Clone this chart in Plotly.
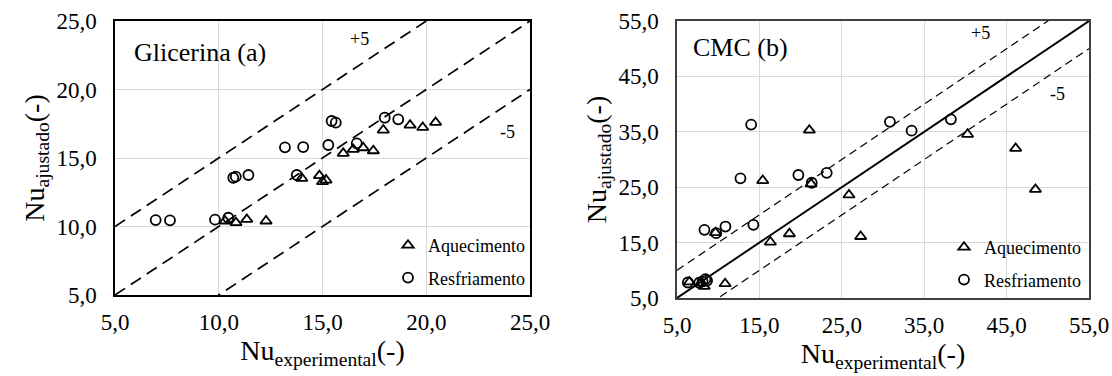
import plotly.graph_objects as go

# ---------------- data ----------------
gli_aq_x = [10.3, 10.83, 11.35, 12.28, 14.0, 14.85, 15.0, 15.17, 16.0, 16.48, 16.96, 17.45, 17.93, 19.22, 19.83, 20.45]
gli_aq_y = [10.4, 10.28, 10.52, 10.4, 13.52, 13.71, 13.27, 13.39, 15.34, 15.63, 15.75, 15.53, 17.04, 17.4, 17.23, 17.6]
gli_re_x = [6.96, 7.65, 9.82, 10.46, 10.7, 10.82, 11.43, 13.19, 13.76, 14.07, 15.28, 15.44, 15.64, 16.65, 18.0, 18.65]
gli_re_y = [10.47, 10.45, 10.5, 10.64, 13.56, 13.64, 13.76, 15.78, 13.76, 15.8, 15.95, 17.7, 17.58, 16.07, 17.94, 17.82]

cmc_aq_x = [6.5, 7.9, 8.3, 9.67, 10.84, 15.4, 16.33, 18.64, 21.06, 21.27, 25.87, 27.29, 40.26, 46.1, 48.5]
cmc_aq_y = [7.9, 7.7, 7.1, 16.8, 7.58, 26.2, 15.1, 16.6, 35.3, 25.6, 23.6, 16.1, 34.55, 32.0, 24.6]
cmc_re_x = [6.32, 7.7, 8.1, 8.45, 8.65, 8.33, 9.75, 10.88, 12.7, 14.0, 14.27, 19.73, 21.35, 23.17, 30.84, 33.47, 38.24]
cmc_re_y = [7.8, 7.75, 8.0, 8.4, 8.15, 17.3, 16.7, 17.9, 26.6, 36.3, 18.2, 27.2, 25.8, 27.6, 36.8, 35.2, 37.25]

gli_ticks = [5, 10, 15, 20, 25]
gli_ticklabels = ["5,0", "10,0", "15,0", "20,0", "25,0"]
cmc_ticks = [5, 15, 25, 35, 45, 55]
cmc_ticklabels = ["5,0", "15,0", "25,0", "35,0", "45,0", "55,0"]

band_offsets = [5, 0, -5]
band_labels = ["+5", "-5"]
series_names = ["Aquecimento", "Resfriamento"]

FONT = "Liberation Serif"
W, H = 1112, 376

fig = go.Figure()

def ref_lines(ticks, xa, ya, dash_side, dash_mid, w_side, w_mid):
    lo, hi = ticks[0], ticks[-1]
    for off in band_offsets:
        fig.add_trace(go.Scatter(
            x=[lo, hi], y=[lo + off, hi + off], mode="lines",
            line=dict(color="black", width=w_mid if off == 0 else w_side,
                      dash=dash_mid if off == 0 else dash_side),
            xaxis=xa, yaxis=ya, showlegend=False, hoverinfo="skip"))

ref_lines(gli_ticks, "x", "y", "12px,7px", "12px,7px", 1.7, 1.7)
ref_lines(cmc_ticks, "x2", "y2", "8px,5px", "solid", 1.2, 1.9)

def series(x, y, sym, name, xa, ya, legend):
    fig.add_trace(go.Scatter(
        x=x, y=y, mode="markers", name=name, legend=legend, legendgroup=legend + name,
        marker=dict(symbol=sym, size=10, color="black", line=dict(color="black", width=1.8)),
        xaxis=xa, yaxis=ya, cliponaxis=False))

series(gli_aq_x, gli_aq_y, "triangle-up-open", series_names[0], "x", "y", "legend")
series(gli_re_x, gli_re_y, "circle-open", series_names[1], "x", "y", "legend")
series(cmc_aq_x, cmc_aq_y, "triangle-up-open", series_names[0], "x2", "y2", "legend2")
series(cmc_re_x, cmc_re_y, "circle-open", series_names[1], "x2", "y2", "legend2")

def axis(dom, ticks, labels, lc, anchor, title, standoff, is_x):
    d = dict(domain=dom, range=[ticks[0], ticks[-1]], tickvals=ticks, ticktext=labels,
             showgrid=True, gridcolor="#d9d9d9", gridwidth=1, zeroline=False,
             showline=True, linecolor=lc, linewidth=1.5, mirror=True, ticks="",
             anchor=anchor, tickfont=dict(family=FONT, size=23, color="black"),
             title=dict(text=title, font=dict(family=FONT, size=28, color="black"),
                        standoff=standoff),
             automargin=False)
    d["ticklabelstandoff"] = 6 if is_x else 12
    return d

xt = "Nu<sub>experimental</sub>(-)"
yt = "Nu<sub>ajustado</sub>(-)"

fig.update_layout(
    width=W, height=H,
    margin=dict(l=0, r=0, t=0, b=0),
    paper_bgcolor="white", plot_bgcolor="white",
    font=dict(family=FONT, color="black"),
    xaxis=axis([115 / W, 530 / W], gli_ticks, gli_ticklabels, "black", "y", xt, 4, True),
    yaxis=axis([1 - 295 / H, 1 - 21 / H], gli_ticks, gli_ticklabels, "black", "x", yt, 4, False),
    xaxis2=axis([677 / W, 1089 / W], cmc_ticks, cmc_ticklabels, "#404040", "y2", xt, 4, True),
    yaxis2=axis([1 - 298 / H, 1 - 21 / H], cmc_ticks, cmc_ticklabels, "#404040", "x2", yt, 4, False),
    legend=dict(x=388 / W, y=1 - 296 / H, xanchor="left", yanchor="bottom",
                bgcolor="rgba(0,0,0,0)", font=dict(family=FONT, size=18, color="black"),
                tracegroupgap=6, itemwidth=30),
    legend2=dict(x=944 / W, y=1 - 298 / H, xanchor="left", yanchor="bottom",
                 bgcolor="rgba(0,0,0,0)", font=dict(family=FONT, size=18, color="black"),
                 tracegroupgap=6, itemwidth=30),
    showlegend=True,
)

ann_font = dict(family=FONT, size=18, color="black")
fig.add_annotation(x=16.8, y=23.7, xref="x", yref="y", text=band_labels[0], showarrow=False, font=ann_font)
fig.add_annotation(x=23.9, y=16.9, xref="x", yref="y", text=band_labels[1], showarrow=False, font=ann_font)
fig.add_annotation(x=41.8, y=52.8, xref="x2", yref="y2", text=band_labels[0], showarrow=False, font=ann_font)
fig.add_annotation(x=51.2, y=41.9, xref="x2", yref="y2", text=band_labels[1], showarrow=False, font=ann_font)
fig.add_annotation(x=0.041, y=0.945, xref="x domain", yref="y domain", xanchor="left", yanchor="top",
                   text="Glicerina (a)", showarrow=False, font=dict(family=FONT, size=26, color="black"))
fig.add_annotation(x=0.034, y=0.964, xref="x2 domain", yref="y2 domain", xanchor="left", yanchor="top",
                   text="CMC (b)", showarrow=False, font=dict(family=FONT, size=26, color="black"))

fig.write_html("out.html")
